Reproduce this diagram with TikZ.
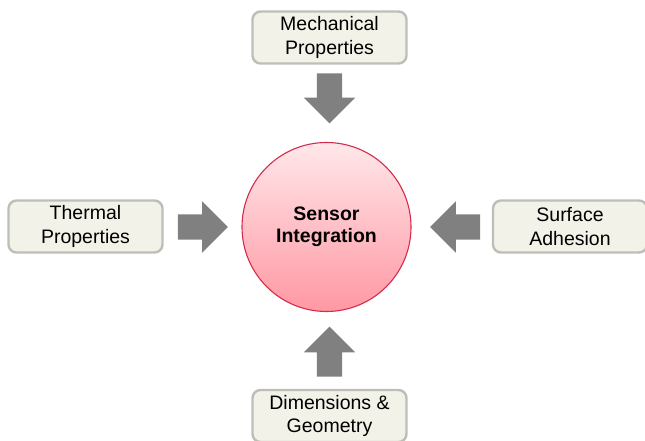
\documentclass[tikz,border=0pt]{standalone}
\usepackage{fontspec}
\setmainfont{Liberation Sans}
\usetikzlibrary{shapes.arrows}
\definecolor{boxfill}{HTML}{F3F2E8}
\definecolor{boxline}{HTML}{BEBEB8}
\definecolor{hubline}{HTML}{D42C4B}
\definecolor{hubtop}{HTML}{FFE7EA}
\definecolor{hubbottom}{HTML}{FF98A3}
\definecolor{arrowgray}{HTML}{808080}

\begin{document}
\begin{tikzpicture}[
  x=1pt,y=-1pt,
  font=\fontsize{19.5}{23.5}\selectfont,
  factor/.style={draw=boxline,fill=boxfill,line width=2.4pt,rounded corners=8pt,
    minimum width=154pt,minimum height=52pt,align=center,inner sep=0pt},
  hub/.style={circle,draw=hubline,line width=1.1pt,top color=hubtop,bottom color=hubbottom,
    minimum size=169pt,align=center,font=\fontsize{19.5}{22.5}\selectfont\bfseries},
  push/.style={single arrow,fill=arrowgray,draw=none,minimum height=50pt,
    single arrow head extend=13pt,inner xsep=0pt,inner ysep=12.5pt,single arrow tip angle=90}
]
  \useasboundingbox (0,0) rectangle (645,441);

  \node[hub] (hub) at (326.5,227) {Sensor\\Integration};

  \node[factor] (mech) at (329.5,37.5) {Mechanical\\Properties};
  \node[factor] (therm) at (85.5,226.5) {Thermal\\Properties};
  \node[factor] (surf) at (570,226.5) {Surface\\Adhesion};
  \node[factor] (geom) at (329.5,416) {Dimensions \&\\Geometry};

  % block arrows pointing into the hub
  \node[push,rotate=-90] (mechin) at (329.5,92) {};
  \node[push] (thermin) at (196.5,227) {};
  \node[push,rotate=180] (surfin) at (461.5,227) {};
  \node[push,rotate=90] (geomin) at (329.5,358) {};
\end{tikzpicture}
\end{document}
